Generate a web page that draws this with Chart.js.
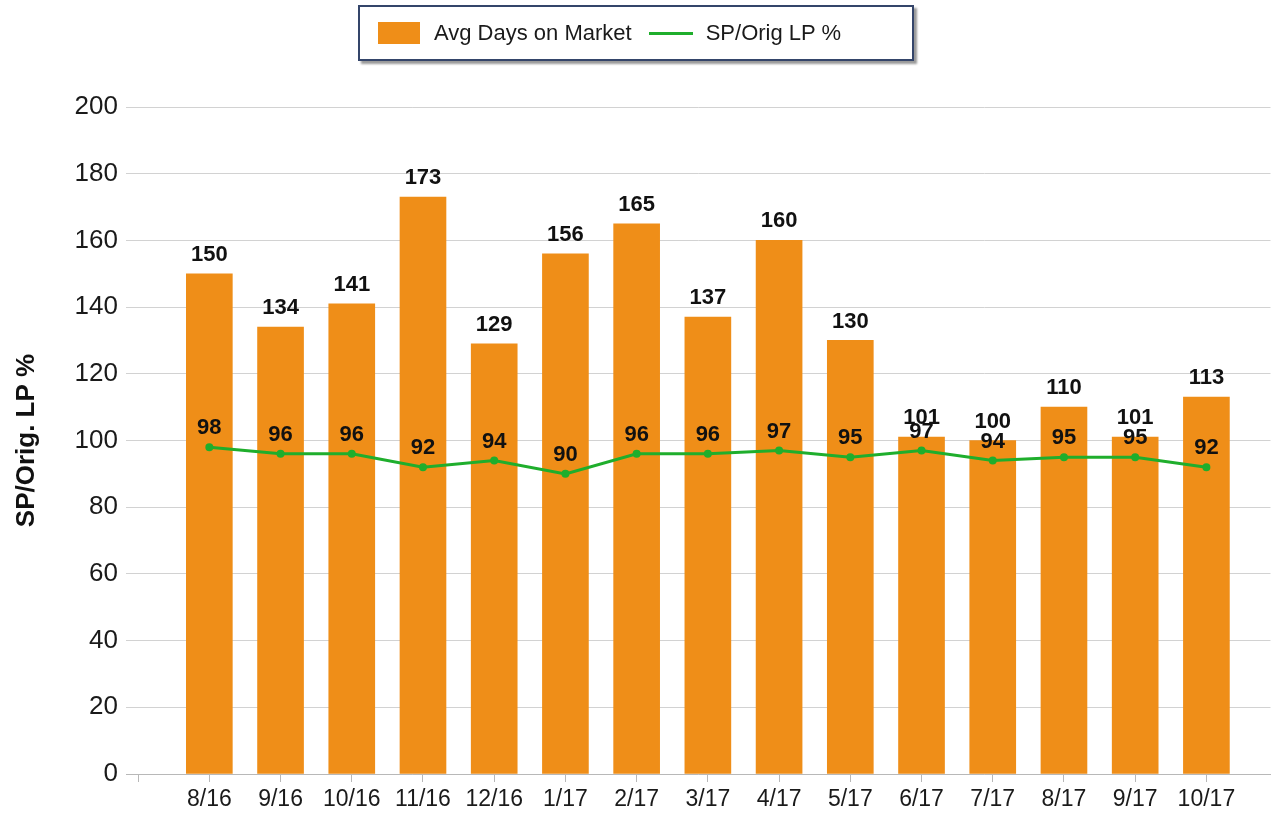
<!DOCTYPE html>
<html>
<head>
<meta charset="utf-8">
<script src="https://cdn.jsdelivr.net/npm/chart.js@4"></script>
<style>
  html, body { margin: 0; padding: 0; background: #fff; }
  #wrap { position: relative; width: 1276px; height: 816px; }
  #chart { position: absolute; left: 0; top: 0; }
  #legend {
    position: absolute; left: 358px; top: 5px; width: 552px; height: 52px;
    border: 2px solid #34456a; background: #fff;
    box-shadow: 3px 3px 2px #9a9a9a;
    display: flex; align-items: center;
    font-family: "Liberation Sans", Arial, sans-serif; font-size: 22px; color: #1a1a1a;
  }
  #legend .swatch { width: 42px; height: 22px; background: #ef8e18; margin-left: 18px; margin-right: 14px; }
  #legend .line { width: 44px; height: 3px; background: #1fae2c; margin-left: 17px; margin-right: 13px; }
</style>
</head>
<body>
<div id="wrap">
  <canvas id="chart" width="1276" height="816"></canvas>
  <div id="legend">
    <div class="swatch"></div><span>Avg Days on Market</span>
    <div class="line"></div><span>SP/Orig LP %</span>
  </div>
</div>
<script>
// Monthly market stats
const months = ['8/16', '9/16', '10/16', '11/16', '12/16', '1/17', '2/17', '3/17', '4/17', '5/17', '6/17', '7/17', '8/17', '9/17', '10/17'];
const daysOnMarket = [150, 134, 141, 173, 129, 156, 165, 137, 160, 130, 101, 100, 110, 101, 113];
const spLpPct = [98, 96, 96, 92, 94, 90, 96, 96, 97, 95, 97, 94, 95, 95, 92];
const yTicks = [0, 20, 40, 60, 80, 100, 120, 140, 160, 180, 200];

const FONT = '"Liberation Sans", Arial, sans-serif';

// value labels above bars and line points
const valueLabels = {
  id: 'valueLabels',
  afterDatasetsDraw(chart) {
    const ctx = chart.ctx;
    ctx.save();
    ctx.fillStyle = '#111';
    ctx.textAlign = 'center';
    ctx.textBaseline = 'bottom';
    chart.data.datasets.forEach((ds, di) => {
      const meta = chart.getDatasetMeta(di);
      ctx.font = 'bold 22px ' + FONT;
      const off = ds.type === 'bar' ? 8 : 8;
      meta.data.forEach((el, i) => {
        ctx.fillText(String(ds.data[i].y), el.x, el.y - off);
      });
    });
    ctx.restore();
  }
};

new Chart(document.getElementById('chart'), {
  data: {
    datasets: [
      {
        type: 'line',
        label: 'SP/Orig LP %',
        data: months.map((m, i) => ({ x: i, y: spLpPct[i] })),
        borderColor: '#1fae2c',
        backgroundColor: '#1fae2c',
        borderWidth: 3,
        pointRadius: 2.5,
        pointHoverRadius: 2.5,
        tension: 0,
        order: 0
      },
      {
        type: 'bar',
        label: 'Avg Days on Market',
        data: months.map((m, i) => ({ x: i, y: daysOnMarket[i] })),
        backgroundColor: '#ef8e18',
        barThickness: 46,
        order: 1
      }
    ]
  },
  options: {
    responsive: false,
    animation: false,
    layout: { padding: { top: 107, right: 4, bottom: 0, left: 4 } },
    plugins: {
      legend: { display: false },
      tooltip: { enabled: false }
    },
    scales: {
      x: {
        type: 'linear',
        min: -1.17,
        max: 14.9,
        offset: false,
        afterBuildTicks: (scale) => { scale.ticks = [-1].concat(months.map((m, i) => i)).map(v => ({ value: v })); },
        afterFit: (scale) => { scale.height = 42; },
        grid: { offset: false, drawOnChartArea: false, color: '#b8b8b8', tickLength: 8 },
        border: { color: '#b8b8b8' },
        ticks: {
          autoSkip: false,
          maxRotation: 0,
          padding: 4,
          color: '#1a1a1a',
          font: { family: FONT, size: 23 },
          callback: (v) => months[v] ?? ''
        }
      },
      y: {
        min: 0,
        max: 200,
        afterBuildTicks: (scale) => { scale.ticks = yTicks.map(v => ({ value: v })); },
        afterFit: (scale) => { scale.width = 122; },
        grid: { color: '#d2d2d2', drawTicks: false },
        border: { display: false },
        ticks: {
          padding: 8,
          color: '#1a1a1a',
          font: { family: FONT, size: 26 }
        },
        title: {
          display: true,
          text: 'SP/Orig. LP %',
          color: '#111',
          padding: { top: 7, bottom: 0 },
          font: { family: FONT, size: 26, weight: 'bold' }
        }
      }
    }
  },
  plugins: [valueLabels]
});
</script>
</body>
</html>
